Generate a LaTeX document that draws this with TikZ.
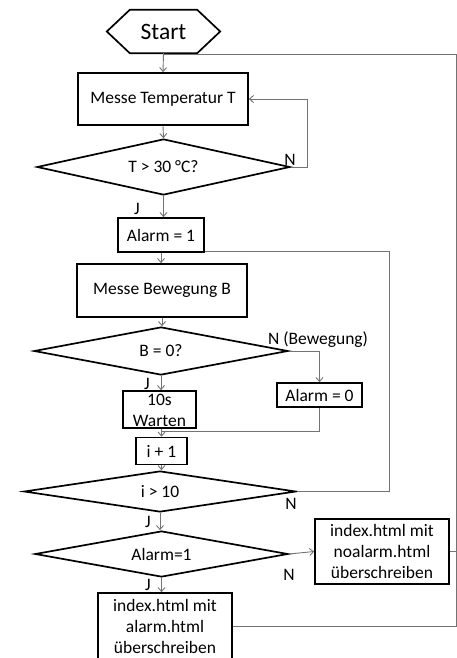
\documentclass[tikz,border=0pt]{standalone}
\usepackage{fontspec}
\setmainfont{Carlito}
\usetikzlibrary{shapes.geometric,arrows.meta}
\begin{document}
\begin{tikzpicture}[x=1pt,y=-1pt,
  txt/.style={font=\fontsize{17.5}{21}\selectfont},
  box/.style={txt,draw=black,line width=1.7pt,inner sep=0pt,align=center,rectangle},
  dia/.style={txt,diamond,draw=black,line width=1.7pt,inner sep=0pt,align=center},
  conn/.style={draw=black!55,line width=0.9pt},
  arr/.style={conn,-{Straight Barb[length=4pt,width=7pt]}},
  lbl/.style={txt,inner sep=0pt}]
\useasboundingbox (0,0) rectangle (457,658);
% Start hexagon
\node[minimum width=113pt,minimum height=43pt,inner sep=0pt,font=\fontsize{23.5}{28}\selectfont] (start) at (163.5,31.5) {Start};
\draw[line width=1.7pt,line join=miter] (start.west) -- ([xshift=23pt]start.north west) -- ([xshift=-23pt]start.north east) -- (start.east) -- ([xshift=-23pt]start.south east) -- ([xshift=23pt]start.south west) -- cycle;
% nodes
\node[box,minimum width=170pt,minimum height=52pt] (mt) at (163,99) {Messe Temperatur T};
\node[dia,aspect=4.52,minimum width=253pt,minimum height=56pt] (d1) at (163.5,167) {T > 30 °C?};
\node[box,minimum width=86pt,minimum height=34pt] (a1) at (161,235) {Alarm = 1};
\node[box,minimum width=170pt,minimum height=53pt] (mb) at (162,290.5) {Messe Bewegung B};
\node[dia,aspect=5.29,minimum width=254pt,minimum height=48pt] (d2) at (161,351) {B = 0?};
\node[box,minimum width=85pt,minimum height=24pt] (a0) at (319.5,395) {Alarm = 0};
\node[box,minimum width=73pt,minimum height=37pt,text depth=0pt] (w10) at (159.5,409.5) {\rule{0pt}{12pt}10s\\Warten};
\node[box,minimum width=51pt,minimum height=27pt] (i1) at (161.5,451) {i + 1};
\node[dia,aspect=6.63,minimum width=272pt,minimum height=41pt] (d3) at (160,491.5) {i > 10};
\node[dia,aspect=5.5,minimum width=253pt,minimum height=46pt] (d4) at (161.5,554) {Alarm=1};
\node[box,minimum width=134pt,minimum height=65pt] (noal) at (382,551.5) {index.html mit\\noalarm.html\\überschreiben};
\node[box,minimum width=134pt,minimum height=66pt] (al) at (165,626) {index.html mit\\alarm.html\\überschreiben};
% helper coordinates
\coordinate (retR) at (456,54);
\coordinate (loopB) at (389,251);
\coordinate (j1) at (161,431);
% connectors
\draw[arr] (start.south) -- (mt.north);
\draw[arr] (mt.south) -- (d1.north);
\draw[arr] (d1.east) -- ++(17,0) |- (mt.east);
\draw[arr] (d1.south) -- (d1.south |- a1.north);
\draw[arr] (a1.south) -- (a1.south |- mb.north);
\draw[arr] (mb.south) -- (mb.south |- d2.north);
\draw[arr] (d2.east) -| (a0.north);
\draw[arr] (d2.south) -- (d2.south |- w10.north);
\draw[conn] (a0.south) |- (j1);
\draw[arr] (i1.north |- w10.south) -- (i1.north);
\draw[arr] (i1.south) -- (i1.south |- d3.north);
\draw[conn] (d3.east) -| (loopB) -- (loopB -| a1.east);
\draw[arr] (d3.south) -- (d3.south |- d4.north);
\draw[arr] (d4.east) -- (noal.west);
\draw[arr] (d4.south) -- (d4.south |- al.north);
\draw[conn] (al.east) -| (retR) -- (retR -| start.south);
\draw[conn] (noal.east) -- (noal.east -| retR);
% labels
\node[lbl] (lN1) at (290,160) {N};
\node[lbl] (lJ1) at (137,209) {J};
\node[lbl] (lNB) at (318,340) {N (Bewegung)};
\node[lbl] (lJ2) at (147,384) {J};
\node[lbl] (lN3) at (291,504) {N};
\node[lbl] (lJ3) at (148,522) {J};
\node[lbl] (lN4) at (289,575) {N};
\node[lbl] (lJ4) at (148,585) {J};
\end{tikzpicture}
\end{document}
